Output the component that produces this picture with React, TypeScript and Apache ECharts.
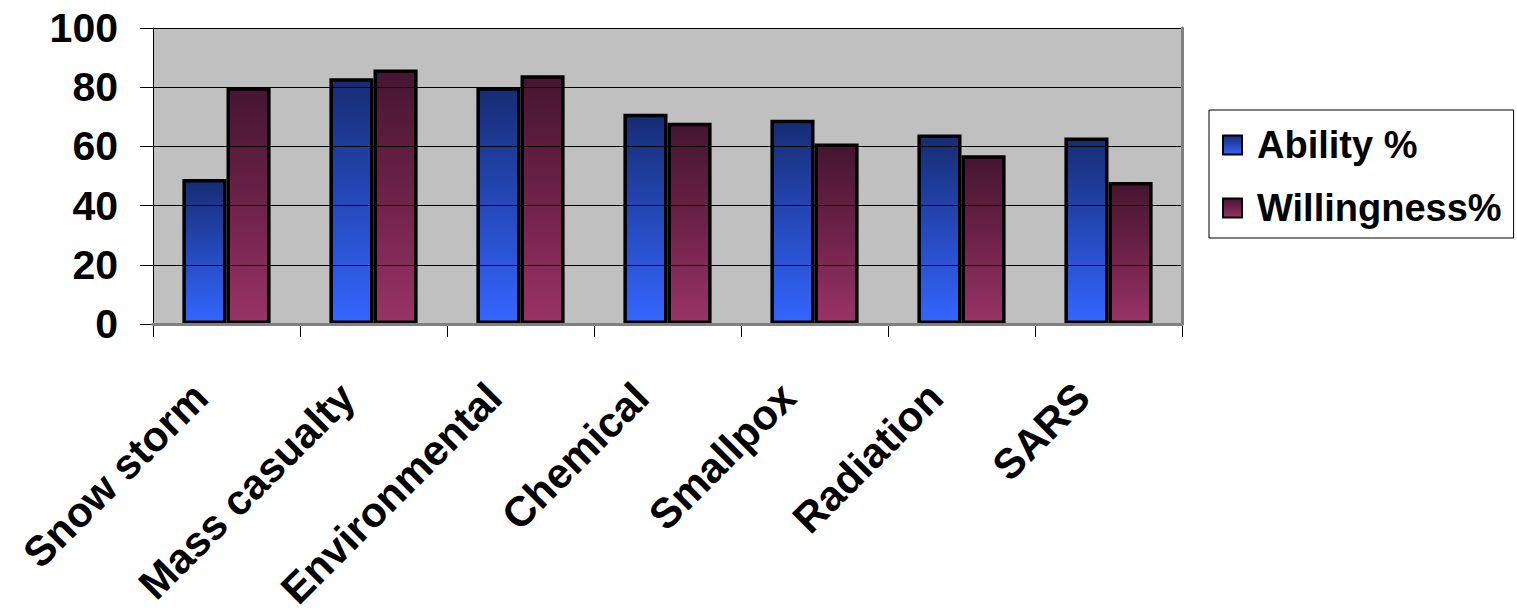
import React, { useEffect, useRef } from "react";
import * as echarts from "echarts";

const categories = ["Snow storm", "Mass casualty", "Environmental", "Chemical", "Smallpox", "Radiation", "SARS"];
const abilityValues = [49, 83, 80, 71, 69, 64, 63];
const willingnessValues = [80, 86, 84, 68, 61, 57, 48];
const seriesNames = ["Ability %", "Willingness%"];
const yTicks = { min: 0, max: 100, interval: 20 };

const FONT = "'Liberation Sans', Arial, sans-serif";

export default function App() {
  const ref = useRef<HTMLDivElement>(null);
  useEffect(() => {
    if (!ref.current) return;
    const chart = echarts.init(ref.current, undefined, { renderer: "svg" });
    const blueGrad = new echarts.graphic.LinearGradient(0, 0, 0, 1, [
      { offset: 0, color: "#162C73" },
      { offset: 0.5, color: "#2549BB" },
      { offset: 1, color: "#3366FF" },
    ]);
    const redGrad = new echarts.graphic.LinearGradient(0, 0, 0, 1, [
      { offset: 0, color: "#451530" },
      { offset: 0.5, color: "#6E2249" },
      { offset: 1, color: "#993366" },
    ]);
    chart.setOption({
      animation: false,
      backgroundColor: "#ffffff",
      textStyle: { fontFamily: FONT },
      grid: {
        left: 153,
        top: 28,
        right: 335,
        bottom: 291,
        show: true,
        backgroundColor: "#C0C0C0",
        borderWidth: 0,
      },
      legend: {
        orient: "vertical",
        left: 1209,
        top: 110,
        padding: [15, 12, 10, 13],
        itemGap: 23,
        itemWidth: 19,
        itemHeight: 19,
        icon: "rect",
        backgroundColor: "#ffffff",
        borderColor: "#000000",
        borderWidth: 1,
        borderRadius: 0,
        itemStyle: { borderColor: "#000000", borderWidth: 2 },
        textStyle: { fontSize: 38, fontWeight: "bold", color: "#000", fontFamily: FONT, lineHeight: 40, padding: [0, 0, 0, 10] },
        data: seriesNames,
      },
      xAxis: [
        {
          type: "category",
          data: categories,
          position: "bottom",
          axisLine: { show: true, lineStyle: { color: "#000", width: 1 } },
          axisTick: { show: true, length: 13, alignWithLabel: false, lineStyle: { color: "#000" } },
          axisLabel: {
            interval: 0,
            rotate: 45,
            margin: 40,
            padding: [0, 37, 0, 0],
            fontSize: 42,
            fontWeight: "bold",
            color: "#000",
            fontFamily: FONT,
          },
          splitLine: { show: false },
          z: 4,
        },
        {
          type: "category",
          data: categories,
          position: "top",
          axisLine: { show: true, lineStyle: { color: "#808080", width: 3 } },
          axisTick: { show: false },
          axisLabel: { show: false },
          splitLine: { show: false },
          z: 5,
        },
      ],
      yAxis: [
        {
          type: "value",
          min: yTicks.min,
          max: yTicks.max,
          interval: yTicks.interval,
          axisLine: { show: true, lineStyle: { color: "#000", width: 1 } },
          axisTick: { show: true, length: 13, lineStyle: { color: "#000" } },
          axisLabel: { margin: 35, fontSize: 41, fontWeight: "bold", color: "#000", fontFamily: FONT },
          splitLine: { show: true, lineStyle: { color: "#000", width: 1 } },
          z: 4,
        },
        {
          type: "value",
          position: "right",
          min: yTicks.min,
          max: yTicks.max,
          interval: yTicks.interval,
          axisLine: { show: true, lineStyle: { color: "#808080", width: 3 } },
          axisTick: { show: false },
          axisLabel: { show: false },
          splitLine: { show: false },
          z: 5,
        },
      ],
      series: [
        {
          name: seriesNames[0],
          type: "bar",
          data: abilityValues,
          barGap: "0%",
          barCategoryGap: "40%",
          itemStyle: { color: blueGrad, borderColor: "#000", borderWidth: 3.5 },
          z: 3,
        },
        {
          name: seriesNames[1],
          type: "bar",
          data: willingnessValues,
          barGap: "0%",
          barCategoryGap: "40%",
          itemStyle: { color: redGrad, borderColor: "#000", borderWidth: 3.5 },
          z: 3,
        },
      ],
    });
    return () => chart.dispose();
  }, []);
  return <div ref={ref} style={{ position: "fixed", left: 0, top: 0, width: 1517, height: 615 }} />;
}
